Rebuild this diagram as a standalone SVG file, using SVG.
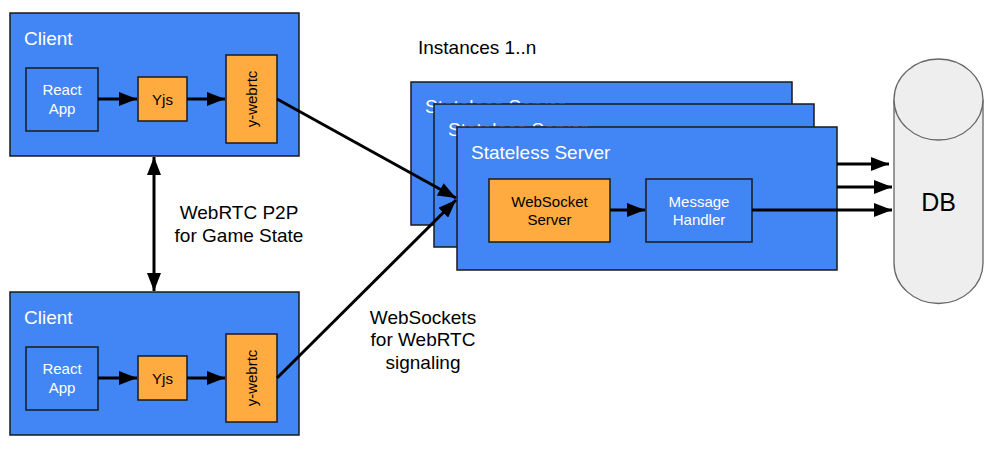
<svg xmlns="http://www.w3.org/2000/svg" width="992" height="449" viewBox="0 0 992 449">
<defs>
<style>
.blue{fill:#4285f4;stroke:#1a1a1a;stroke-width:1.5}
.orange{fill:#ffab40;stroke:#1a1a1a;stroke-width:1.5}
.t{font-family:"Liberation Sans",Arial,sans-serif}
.w{fill:#ffffff}
.k{fill:#000000}
.big{font-size:19px}
.sm{font-size:15px}
.c{text-anchor:middle}
.ln{stroke:#000;stroke-width:3;fill:none}
</style>
<marker id="ah" markerUnits="userSpaceOnUse" markerWidth="20" markerHeight="14" refX="18" refY="7" orient="auto-start-reverse">
<path d="M0,0 L18,7 L0,14 Z" fill="#000"/>
</marker>
</defs>
<rect width="992" height="449" fill="#ffffff"/>

<g id="client1">
<rect class="blue" x="10" y="13" width="289" height="143"/>
<text class="t w big" x="24" y="45">Client</text>
<rect class="blue" x="26" y="68" width="72" height="63"/>
<text class="t w sm c" x="62" y="95">React</text>
<text class="t w sm c" x="62" y="114">App</text>
<rect class="orange" x="138" y="77" width="49" height="44"/>
<text class="t k sm c" x="162.5" y="105">Yjs</text>
<rect class="orange" x="226" y="55" width="51" height="88"/>
<text class="t k sm c" transform="translate(257,99) rotate(-90)">y-webrtc</text>
</g>

<g id="client2">
<rect class="blue" x="10" y="292" width="289" height="143"/>
<text class="t w big" x="24" y="324">Client</text>
<rect class="blue" x="26" y="347" width="72" height="63"/>
<text class="t w sm c" x="62" y="374">React</text>
<text class="t w sm c" x="62" y="393">App</text>
<rect class="orange" x="138" y="356" width="49" height="44"/>
<text class="t k sm c" x="162.5" y="384">Yjs</text>
<rect class="orange" x="226" y="334" width="51" height="88"/>
<text class="t k sm c" transform="translate(257,378) rotate(-90)">y-webrtc</text>
</g>

<g id="server1">
<rect class="blue" x="411" y="82" width="381" height="143"/>
<text class="t w big" x="425" y="113">Stateless Server</text>
</g>
<g id="server2">
<rect class="blue" x="434" y="104" width="380" height="143"/>
<text class="t w big" x="448" y="136">Stateless Server</text>
</g>
<g id="server3">
<rect class="blue" x="457" y="127" width="380" height="143"/>
<text class="t w big" x="471" y="159">Stateless Server</text>
<rect class="orange" x="489" y="179" width="121" height="63"/>
<text class="t k sm c" x="549.5" y="207">WebSocket</text>
<text class="t k sm c" x="549.5" y="225">Server</text>
<rect class="blue" x="646" y="179" width="106" height="63"/>
<text class="t w sm c" x="699" y="207">Message</text>
<text class="t w sm c" x="699" y="225">Handler</text>
</g>

<g id="db">
<path d="M894,99.5 L894,263 A44.5,40.5 0 0 0 983,263 L983,99.5" fill="#eeeeee" stroke="#666666" stroke-width="1.3"/>
<ellipse cx="938.5" cy="99.5" rx="44.5" ry="40.5" fill="#eeeeee" stroke="#666666" stroke-width="1.3"/>
<text class="t k c" x="938.5" y="211" font-size="25">DB</text>
</g>

<g id="labels">
<text class="t k big" x="418" y="54">Instances 1..n</text>
<text class="t k big c" x="239" y="219">WebRTC P2P</text>
<text class="t k big c" x="239" y="242">for Game State</text>
<text class="t k big c" x="423" y="324">WebSockets</text>
<text class="t k big c" x="423" y="346">for WebRTC</text>
<text class="t k big c" x="423" y="369">signaling</text>
</g>

<g id="connectors">
<line class="ln" x1="98" y1="99" x2="137" y2="99" marker-end="url(#ah)"/>
<line class="ln" x1="187" y1="99" x2="225" y2="99" marker-end="url(#ah)"/>
<line class="ln" x1="98" y1="378" x2="137" y2="378" marker-end="url(#ah)"/>
<line class="ln" x1="187" y1="378" x2="225" y2="378" marker-end="url(#ah)"/>
<line class="ln" x1="154" y1="157" x2="154" y2="291" marker-start="url(#ah)" marker-end="url(#ah)"/>
<line class="ln" x1="277" y1="99" x2="456" y2="198" marker-end="url(#ah)"/>
<line class="ln" x1="277" y1="378" x2="456" y2="200" marker-end="url(#ah)"/>
<line class="ln" x1="610" y1="210" x2="645" y2="210" marker-end="url(#ah)"/>
<line class="ln" x1="837" y1="164" x2="889" y2="164" marker-end="url(#ah)"/>
<line class="ln" x1="837" y1="187" x2="892" y2="187" marker-end="url(#ah)"/>
<line class="ln" x1="752" y1="210" x2="892" y2="210" marker-end="url(#ah)"/>
</g>
</svg>
